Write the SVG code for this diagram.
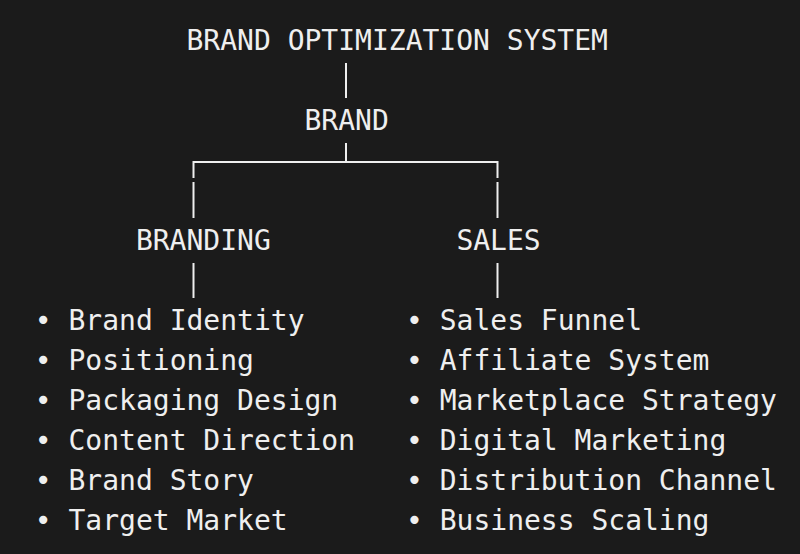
<svg xmlns="http://www.w3.org/2000/svg" width="800" height="554" viewBox="0 0 800 554">
<style>
text{font-family:"DejaVu Sans Mono","Liberation Mono",monospace;font-size:28px;fill:#efefef}
.c line{stroke:#efefef;stroke-width:2;fill:none}
</style>
<rect width="800" height="554" fill="#1b1b1b"/>
<g id="root"><text x="186.5" y="50">BRAND OPTIMIZATION SYSTEM</text></g>
<g id="brand"><text x="304.5" y="130">BRAND</text></g>
<g id="branding"><text x="135.9" y="250">BRANDING</text></g>
<g id="sales"><text x="456.4" y="250">SALES</text></g>
<g id="branding-list">
<text x="34.8" y="330">• Brand Identity</text>
<text x="34.8" y="370">• Positioning</text>
<text x="34.8" y="410">• Packaging Design</text>
<text x="34.8" y="450">• Content Direction</text>
<text x="34.8" y="490">• Brand Story</text>
<text x="34.8" y="530">• Target Market</text>
</g>
<g id="sales-list">
<text x="406" y="330">• Sales Funnel</text>
<text x="406" y="370">• Affiliate System</text>
<text x="406" y="410">• Marketplace Strategy</text>
<text x="406" y="450">• Digital Marketing</text>
<text x="406" y="490">• Distribution Channel</text>
<text x="406" y="530">• Business Scaling</text>
</g>
<g id="connectors" class="c">
<line x1="346" y1="63" x2="346" y2="98"/>
<line x1="346" y1="143" x2="346" y2="162"/>
<path d="M193.5 178 V162 H497.5 V178" stroke="#efefef" stroke-width="2" fill="none"/>
<line x1="193.5" y1="182" x2="193.5" y2="218"/>
<line x1="497.5" y1="182" x2="497.5" y2="218"/>
<line x1="193.5" y1="263" x2="193.5" y2="298"/>
<line x1="497.5" y1="263" x2="497.5" y2="298"/>
</g>
</svg>
